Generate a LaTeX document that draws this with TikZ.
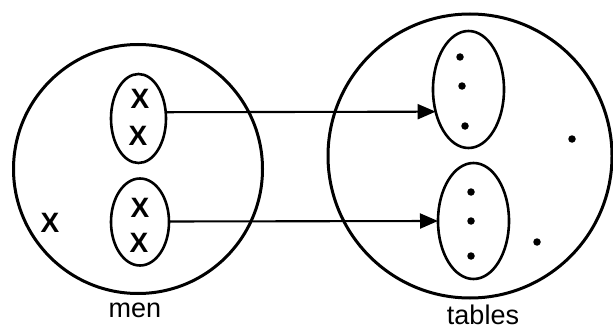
\documentclass[tikz,border=0pt]{standalone}
\usepackage{fontspec}
\setmainfont{Liberation Sans}[BoldFont={Liberation Sans Bold}]
\newfontfamily\heavyfont{Liberation Sans Bold}
\usetikzlibrary{shapes.geometric,arrows.meta}
\tikzset{
  bigset/.style={draw, circle, line width=3pt, inner sep=0pt, outer sep=0pt},
  group/.style={draw, ellipse, line width=2.6pt, inner sep=0pt, outer sep=0pt},
  man/.style={font=\heavyfont\fontsize{28}{28}\selectfont, inner sep=0pt},
  seat/.style={fill, circle, minimum size=7.5pt, inner sep=0pt},
  lbl/.style={font=\fontsize{27}{27}\selectfont, inner sep=0pt, anchor=base},
  link/.style={line width=2.1pt, -{Triangle[length=18pt,width=15pt]}}
}
\begin{document}
\begin{tikzpicture}[x=1pt,y=-1pt]
\useasboundingbox (0,0) rectangle (613,329);
% sets
\node[bigset, minimum size=249pt] (men) at (138,169) {};
\node[bigset, minimum size=284pt] (tables) at (470,156) {};
% groups of men
\node[group, minimum width=55pt, minimum height=89pt] (g1) at (138.5,118.5) {};
\node[group, minimum width=58pt, minimum height=87pt] (g2) at (140,222) {};
% groups of tables
\node[group, minimum width=71pt, minimum height=117pt] (t1) at (468.5,89.5) {};
\node[group, minimum width=71pt, minimum height=116pt] (t2) at (473.5,221) {};
% men
\node[man] (m1) at (140,99) {X};
\node[man] (m2) at (138,136) {X};
\node[man] (m3) at (140,208) {X};
\node[man] (m4) at (139,243) {X};
\node[man] (m5) at (50,223) {X};
% seats
\node[seat] (s1) at (460,57) {};
\node[seat] (s2) at (462,86) {};
\node[seat] (s3) at (465,126) {};
\node[seat] (s4) at (572,139) {};
\node[seat] (s5) at (471,192) {};
\node[seat] (s6) at (471,221) {};
\node[seat] (s7) at (471,256) {};
\node[seat] (s8) at (537,242) {};
% labels
\node[lbl] (lm) at (135,317) {men};
\node[lbl] (lt) at (483,324) {tables};
% maps
\draw[link] (g1.13.4) -- (t1.214.4);
\draw[link] (g2.1.5) -- (t2.west);
\end{tikzpicture}
\end{document}
